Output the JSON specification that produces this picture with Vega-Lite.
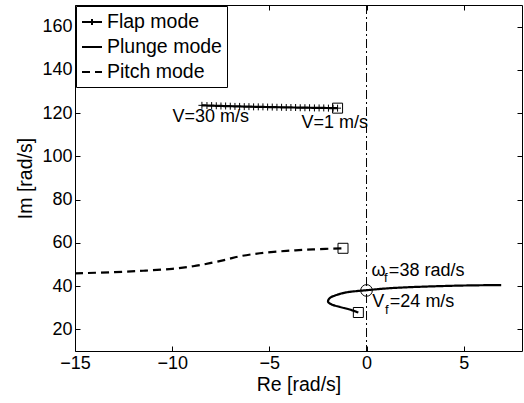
{
  "$schema": "https://vega.github.io/schema/vega-lite/v6.json",
  "width": 447,
  "height": 346,
  "autosize": {"type": "none"},
  "padding": {"left": 75, "top": 5, "right": 2, "bottom": 52},
  "background": "white",
  "config": {
    "view": {"stroke": "black", "strokeWidth": 1},
    "axis": {
      "grid": false,
      "domain": false,
      "tickColor": "black",
      "tickWidth": 1,
      "tickSize": -5,
      "labelFlush": false,
      "labelFont": "Liberation Sans",
      "labelFontSize": 18,
      "labelColor": "black",
      "labelPadding": 8,
      "titleFont": "Liberation Sans",
      "titleFontSize": 19.5,
      "titleFontWeight": "normal",
      "titleColor": "black"
    },
    "legend": {
      "labelFont": "Liberation Sans",
      "labelFontSize": 19.5,
      "labelColor": "black",
      "strokeColor": "black",
      "fillColor": "white",
      "padding": 5,
      "rowPadding": 4,
      "symbolType": "stroke",
      "symbolSize": 400,
      "symbolStrokeWidth": 2,
      "symbolStrokeColor": "black",
      "labelOffset": 4,
      "offset": 1
    }
  },
  "datasets": {
    "curves": [
      {"mode": "Flap mode", "i": 1, "re": -8.47, "im": 123.6},
      {"mode": "Flap mode", "i": 2, "re": -7.0, "im": 123.2},
      {"mode": "Flap mode", "i": 3, "re": -5.0, "im": 122.8},
      {"mode": "Flap mode", "i": 4, "re": -3.0, "im": 122.5},
      {"mode": "Flap mode", "i": 5, "re": -1.49, "im": 122.3},
      {"mode": "Plunge mode", "i": 1, "re": -0.42, "im": 27.8},
      {"mode": "Plunge mode", "i": 2, "re": -0.87, "im": 29.2},
      {"mode": "Plunge mode", "i": 3, "re": -1.38, "im": 30.4},
      {"mode": "Plunge mode", "i": 4, "re": -1.81, "im": 31.6},
      {"mode": "Plunge mode", "i": 5, "re": -1.98, "im": 32.8},
      {"mode": "Plunge mode", "i": 6, "re": -1.9, "im": 34.4},
      {"mode": "Plunge mode", "i": 7, "re": -1.55, "im": 35.9},
      {"mode": "Plunge mode", "i": 8, "re": -1.04, "im": 37.1},
      {"mode": "Plunge mode", "i": 9, "re": -0.52, "im": 37.7},
      {"mode": "Plunge mode", "i": 10, "re": 0.0, "im": 38.1},
      {"mode": "Plunge mode", "i": 11, "re": 0.84, "im": 38.8},
      {"mode": "Plunge mode", "i": 12, "re": 1.7, "im": 39.3},
      {"mode": "Plunge mode", "i": 13, "re": 3.41, "im": 39.9},
      {"mode": "Plunge mode", "i": 14, "re": 5.13, "im": 40.3},
      {"mode": "Plunge mode", "i": 15, "re": 6.93, "im": 40.5},
      {"mode": "Pitch mode", "i": 1, "re": -15.0, "im": 45.9},
      {"mode": "Pitch mode", "i": 2, "re": -13.2, "im": 46.4},
      {"mode": "Pitch mode", "i": 3, "re": -11.49, "im": 47.1},
      {"mode": "Pitch mode", "i": 4, "re": -10.0, "im": 48.0},
      {"mode": "Pitch mode", "i": 5, "re": -8.92, "im": 49.2},
      {"mode": "Pitch mode", "i": 6, "re": -8.06, "im": 50.6},
      {"mode": "Pitch mode", "i": 7, "re": -7.2, "im": 52.3},
      {"mode": "Pitch mode", "i": 8, "re": -6.52, "im": 53.8},
      {"mode": "Pitch mode", "i": 9, "re": -5.49, "im": 55.2},
      {"mode": "Pitch mode", "i": 10, "re": -4.12, "im": 56.3},
      {"mode": "Pitch mode", "i": 11, "re": -2.75, "im": 57.0},
      {"mode": "Pitch mode", "i": 12, "re": -1.21, "im": 57.5}
    ],
    "flapmarks": [
      {"re": -1.49, "im": 122.3}, {"re": -1.72, "im": 122.3}, {"re": -1.96, "im": 122.3},
      {"re": -2.2, "im": 122.4}, {"re": -2.44, "im": 122.4}, {"re": -2.68, "im": 122.4},
      {"re": -2.93, "im": 122.5}, {"re": -3.17, "im": 122.5}, {"re": -3.41, "im": 122.5},
      {"re": -3.65, "im": 122.6}, {"re": -3.89, "im": 122.6}, {"re": -4.13, "im": 122.6},
      {"re": -4.37, "im": 122.7}, {"re": -4.61, "im": 122.7}, {"re": -4.85, "im": 122.8},
      {"re": -5.09, "im": 122.8}, {"re": -5.33, "im": 122.9}, {"re": -5.57, "im": 122.9},
      {"re": -5.81, "im": 122.9}, {"re": -6.05, "im": 123.0}, {"re": -6.29, "im": 123.0},
      {"re": -6.53, "im": 123.1}, {"re": -6.77, "im": 123.1}, {"re": -7.01, "im": 123.2},
      {"re": -7.25, "im": 123.3}, {"re": -7.49, "im": 123.3}, {"re": -7.73, "im": 123.4},
      {"re": -7.97, "im": 123.5}, {"re": -8.21, "im": 123.5}, {"re": -8.47, "im": 123.6}
    ],
    "squares": [
      {"re": -1.49, "im": 122.3},
      {"re": -1.21, "im": 57.5},
      {"re": -0.42, "im": 27.8}
    ],
    "flutter": [{"re": 0.0, "im": 38.0}],
    "labels": [
      {"t": "V=30 m/s", "re": -9.98, "im": 116.0},
      {"t": "V=1 m/s", "re": -3.35, "im": 113.0},
      {"t": "ω", "re": 0.25, "im": 44.7},
      {"t": "=38 rad/s", "re": 1.15, "im": 44.7},
      {"t": "V", "re": 0.3, "im": 30.2},
      {"t": "=24 m/s", "re": 1.2, "im": 30.2}
    ],
    "subs": [
      {"t": "f", "re": 0.9, "im": 42.0},
      {"t": "f", "re": 0.95, "im": 27.0}
    ]
  },
  "layer": [
    {
      "data": {"values": [{}]},
      "mark": {"type": "rule", "color": "black", "strokeWidth": 1, "strokeDash": [9, 3, 2, 3]},
      "encoding": {
        "x": {"datum": 0, "type": "quantitative", "scale": {"domain": [-15, 8], "nice": false, "zero": false}, "axis": null}
      }
    },
    {
      "data": {"name": "curves"},
      "mark": {"type": "line", "interpolate": "catmull-rom", "color": "black", "strokeWidth": 2.2},
      "encoding": {
        "x": {"field": "re", "type": "quantitative", "scale": {"domain": [-15, 8], "nice": false, "zero": false},
              "axis": {"orient": "bottom", "values": [-15, -10, -5, 0, 5], "title": "Re [rad/s]", "titlePadding": 3}},
        "y": {"field": "im", "type": "quantitative", "scale": {"domain": [10, 170], "nice": false, "zero": false},
              "axis": {"orient": "left", "values": [20, 40, 60, 80, 100, 120, 140, 160], "title": "Im [rad/s]", "titlePadding": 6}},
        "order": {"field": "i", "type": "quantitative"},
        "strokeDash": {
          "field": "mode", "type": "nominal",
          "scale": {"domain": ["Flap mode", "Plunge mode", "Pitch mode"], "range": [[1, 0], [1, 0], [8, 5]]},
          "legend": {
            "orient": "top-left",
            "title": null,
            "labelExpr": "datum.label + '\u00a0\u00a0\u00a0\u00a0'",
            "encode": {
              "symbols": {"update": {"shape": {"signal": "datum.value === 'Flap mode' ? 'M-1,0H1M0,-0.3V0.3' : 'stroke'"}}}
            }
          }
        }
      }
    },
    {
      "data": {"name": "squares"},
      "mark": {"type": "point", "shape": "square", "size": 100, "filled": false, "stroke": "black", "strokeWidth": 1, "opacity": 1},
      "encoding": {
        "x": {"field": "re", "type": "quantitative", "scale": {"domain": [-15, 8], "nice": false, "zero": false},
              "axis": {"orient": "top", "values": [-15, -10, -5, 0, 5], "labels": false, "title": null}},
        "y": {"field": "im", "type": "quantitative", "scale": {"domain": [10, 170], "nice": false, "zero": false},
              "axis": {"orient": "right", "values": [20, 40, 60, 80, 100, 120, 140, 160], "labels": false, "title": null}}
      }
    },
    {
      "data": {"name": "flapmarks"},
      "mark": {"type": "point", "shape": "M-1,0H1M0,-1V1", "size": 49, "filled": false, "stroke": "black", "strokeWidth": 1, "opacity": 1},
      "encoding": {
        "x": {"field": "re", "type": "quantitative", "scale": {"domain": [-15, 8], "nice": false, "zero": false}, "axis": null},
        "y": {"field": "im", "type": "quantitative", "scale": {"domain": [10, 170], "nice": false, "zero": false}, "axis": null}
      }
    },
    {
      "data": {"name": "flutter"},
      "mark": {"type": "point", "shape": "circle", "size": 135, "filled": false, "stroke": "black", "strokeWidth": 1, "opacity": 1},
      "encoding": {
        "x": {"field": "re", "type": "quantitative", "scale": {"domain": [-15, 8], "nice": false, "zero": false}, "axis": null},
        "y": {"field": "im", "type": "quantitative", "scale": {"domain": [10, 170], "nice": false, "zero": false}, "axis": null}
      }
    },
    {
      "data": {"name": "labels"},
      "mark": {"type": "text", "align": "left", "baseline": "alphabetic", "font": "Liberation Sans", "fontSize": 18, "color": "black"},
      "encoding": {
        "x": {"field": "re", "type": "quantitative", "scale": {"domain": [-15, 8], "nice": false, "zero": false}, "axis": null},
        "y": {"field": "im", "type": "quantitative", "scale": {"domain": [10, 170], "nice": false, "zero": false}, "axis": null},
        "text": {"field": "t"}
      }
    },
    {
      "data": {"name": "subs"},
      "mark": {"type": "text", "align": "left", "baseline": "alphabetic", "font": "Liberation Sans", "fontSize": 13, "color": "black"},
      "encoding": {
        "x": {"field": "re", "type": "quantitative", "scale": {"domain": [-15, 8], "nice": false, "zero": false}, "axis": null},
        "y": {"field": "im", "type": "quantitative", "scale": {"domain": [10, 170], "nice": false, "zero": false}, "axis": null},
        "text": {"field": "t"}
      }
    }
  ],
  "resolve": {"axis": {"x": "independent", "y": "independent"}}
}
